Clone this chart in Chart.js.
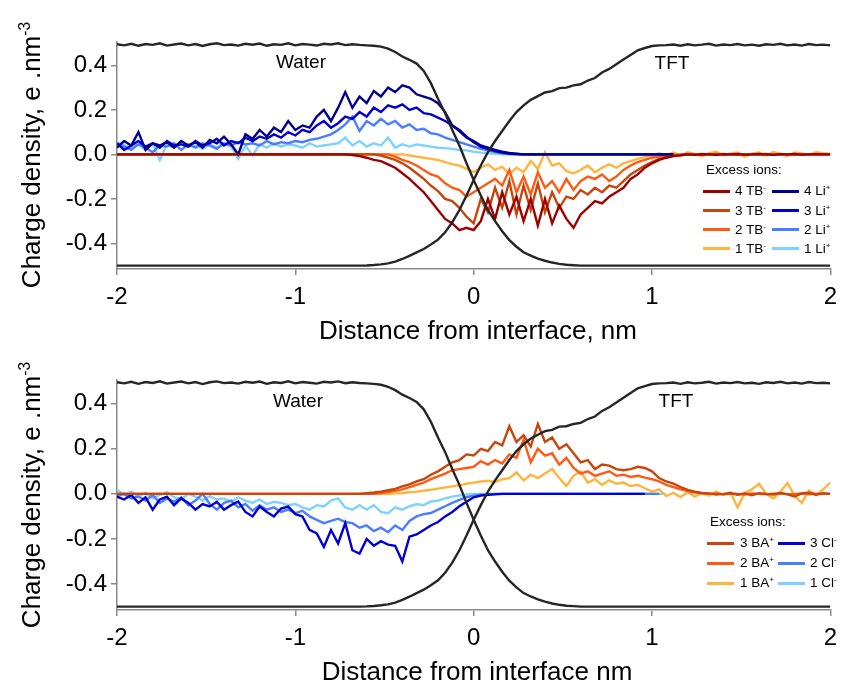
<!DOCTYPE html>
<html>
<head>
<meta charset="utf-8">
<title>Charge density profiles</title>
<script src="https://cdn.jsdelivr.net/npm/chart.js@4.4.1/dist/chart.umd.min.js"></script>
<style>
    body { margin: 0; background: #fff; font-family: 'Liberation Sans', Arial, sans-serif; color: #000; }
    #wrap { position: relative; width: 845px; height: 683px; overflow: hidden; }
    .panel { position: absolute; left: 0; }
    .txt { position: absolute; transform: translate(-50%, -50%); white-space: nowrap; line-height: 1; }
    .ytitle { position: absolute; transform: translate(-50%, -50%) rotate(-90deg); white-space: nowrap; line-height: 1; font-size: 26px; }
    .ytitle sup, .leg sup { font-size: 0.6em; line-height: 0; vertical-align: super; }
    .xtitle { font-size: 26px; }
    .phase { font-size: 19px; }
    .leg { position: absolute; font-size: 13.5px; line-height: 1; }
    .leg .row { position: absolute; display: flex; align-items: center; height: 14px; white-space: nowrap; }
    .leg .sw { display: inline-block; width: 27px; height: 3px; }
    .leg .name { display: inline-block; }
</style>
</head>
<body>
<div id="wrap">
    <canvas id="topChart" class="panel" width="845" height="340" style="top:0"></canvas>
    <canvas id="botChart" class="panel" width="845" height="343" style="top:340px"></canvas>

    <div class="ytitle" style="left:31px; top:155px">Charge density, e .nm<sup>-3</sup></div>
    <div class="ytitle" style="left:31px; top:495px">Charge density, e .nm<sup>-3</sup></div>
    <div class="txt xtitle" style="left:478px; top:330px">Distance from interface, nm</div>
    <div class="txt xtitle" style="left:477px; top:671px">Distance from interface nm</div>
    <div class="txt phase" style="left:301px; top:61px">Water</div>
    <div class="txt phase" style="left:672px; top:62px">TFT</div>
    <div class="txt phase" style="left:298px; top:400px">Water</div>
    <div class="txt phase" style="left:676px; top:400px">TFT</div>
    <div id="topLegend" class="leg"></div>
    <div id="botLegend" class="leg"></div>
</div>

<script>
// distance from interface, nm (sampling grid of the profiles)
const dist = [
    -2, -1.96, -1.92, -1.88, -1.84, -1.8, -1.76, -1.72, -1.68, -1.64,
    -1.6, -1.56, -1.52, -1.48, -1.44, -1.4, -1.36, -1.32, -1.28, -1.24,
    -1.2, -1.16, -1.12, -1.08, -1.04, -1, -0.96, -0.92, -0.88, -0.84,
    -0.8, -0.76, -0.72, -0.68, -0.64, -0.6, -0.56, -0.52, -0.48, -0.44,
    -0.4, -0.36, -0.32, -0.28, -0.24, -0.2, -0.16, -0.12, -0.08, -0.04,
    0, 0.04, 0.08, 0.12, 0.16, 0.2, 0.24, 0.28, 0.32, 0.36,
    0.4, 0.44, 0.48, 0.52, 0.56, 0.6, 0.64, 0.68, 0.72, 0.76,
    0.8, 0.84, 0.88, 0.92, 0.96, 1, 1.04, 1.08, 1.12, 1.16,
    1.2, 1.24, 1.28, 1.32, 1.36, 1.4, 1.44, 1.48, 1.52, 1.56,
    1.6, 1.64, 1.68, 1.72, 1.76, 1.8, 1.84, 1.88, 1.92, 1.96,
    2
];

const xTicks = [-2, -1, 0, 1, 2];
const yTicks = [-0.4, -0.2, 0, 0.2, 0.4];

// scaled solvent density profiles (same in both panels)
const waterDensity = [
    0.495, 0.49, 0.497, 0.488, 0.496, 0.492, 0.499, 0.489, 0.494, 0.498,
    0.49, 0.496, 0.487, 0.495, 0.499, 0.491, 0.494, 0.489, 0.497, 0.493,
    0.498, 0.488, 0.495, 0.492, 0.499, 0.49, 0.496, 0.493, 0.489, 0.497,
    0.494, 0.499, 0.491, 0.495, 0.492, 0.49, 0.488, 0.484, 0.475, 0.46,
    0.44, 0.425, 0.408, 0.375, 0.32, 0.25, 0.185, 0.11, 0.04, -0.04,
    -0.115, -0.185, -0.25, -0.3, -0.345, -0.385, -0.415, -0.44, -0.455, -0.468,
    -0.478, -0.486, -0.492, -0.496, -0.498, -0.5, -0.5, -0.5, -0.5, -0.5,
    -0.5, -0.5, -0.5, -0.5, -0.5, -0.5, -0.5, -0.5, -0.5, -0.5,
    -0.5, -0.5, -0.5, -0.5, -0.5, -0.5, -0.5, -0.5, -0.5, -0.5,
    -0.5, -0.5, -0.5, -0.5, -0.5, -0.5, -0.5, -0.5, -0.5, -0.5,
    -0.5
];
const tftDensity = [
    -0.5, -0.5, -0.5, -0.5, -0.5, -0.5, -0.5, -0.5, -0.5, -0.5,
    -0.5, -0.5, -0.5, -0.5, -0.5, -0.5, -0.5, -0.5, -0.5, -0.5,
    -0.5, -0.5, -0.5, -0.5, -0.5, -0.5, -0.5, -0.5, -0.5, -0.5,
    -0.5, -0.5, -0.5, -0.5, -0.5, -0.499, -0.497, -0.494, -0.49, -0.482,
    -0.47, -0.456, -0.44, -0.425, -0.405, -0.383, -0.35, -0.305, -0.25, -0.185,
    -0.115, -0.05, 0.01, 0.06, 0.105, 0.15, 0.19, 0.22, 0.245, 0.262,
    0.278, 0.284, 0.298, 0.3, 0.31, 0.315, 0.332, 0.343, 0.368, 0.384,
    0.405, 0.426, 0.447, 0.468, 0.478, 0.487, 0.49, 0.491, 0.494, 0.488,
    0.495, 0.49, 0.493, 0.497, 0.489, 0.494, 0.491, 0.496, 0.49, 0.493,
    0.488, 0.495, 0.492, 0.497, 0.49, 0.494, 0.489, 0.496, 0.491, 0.493,
    0.49
];

// top panel: excess TB- anions
const tb4 = [
    0, 0, 0, 0, 0, 0, 0, 0, 0, 0,
    0, 0, 0, 0, 0, 0, 0, 0, 0, 0,
    0, 0, 0, 0, 0, 0, 0, 0, 0, 0,
    0, 0, 0, -0.003, -0.008, -0.015, -0.025, -0.03, -0.045, -0.06,
    -0.085, -0.11, -0.14, -0.17, -0.21, -0.25, -0.29, -0.31, -0.34, -0.33,
    -0.34, -0.3, -0.2, -0.29, -0.17, -0.27, -0.19, -0.3, -0.2, -0.32,
    -0.2, -0.31, -0.23, -0.29, -0.33, -0.27, -0.24, -0.21, -0.22, -0.19,
    -0.17, -0.15, -0.11, -0.09, -0.06, -0.04, -0.025, -0.015, -0.008, -0.004,
    0, -0.002, 0.002, 0, -0.002, 0.001, 0, 0.002, -0.001, 0,
    0.002, 0, -0.002, 0.001, 0, 0.002, -0.001, 0, 0.001, 0,
    0
];
const tb3 = [
    0, 0, 0, 0, 0, 0, 0, 0, 0, 0,
    0, 0, 0, 0, 0, 0, 0, 0, 0, 0,
    0, 0, 0, 0, 0, 0, 0, 0, 0, 0,
    0, 0, 0, 0, 0, 0, 0, -0.005, -0.015, -0.025,
    -0.04, -0.06, -0.085, -0.11, -0.14, -0.165, -0.2, -0.21, -0.24, -0.28,
    -0.31, -0.2, -0.26, -0.15, -0.24, -0.12, -0.27, -0.14, -0.25, -0.13,
    -0.26, -0.17, -0.24, -0.19, -0.2, -0.16, -0.18, -0.15, -0.17, -0.14,
    -0.15, -0.12, -0.09, -0.07, -0.05, -0.035, -0.02, -0.012, -0.006, -0.003,
    0.001, 0, -0.002, 0, 0.002, -0.001, 0, 0.001, -0.002, 0,
    0, 0.002, -0.001, 0, 0.001, 0, -0.002, 0.001, 0, 0.001,
    0
];
const tb2 = [
    0, 0, 0, 0, 0, 0, 0, 0, 0, 0,
    0, 0, 0, 0, 0, 0, 0, 0, 0, 0,
    0, 0, 0, 0, 0, 0, 0, 0, 0, 0,
    0, 0, 0, 0, 0, 0, 0, 0, 0, -0.01,
    -0.025, -0.035, -0.05, -0.07, -0.09, -0.1, -0.13, -0.15, -0.16, -0.19,
    -0.17, -0.15, -0.13, -0.11, -0.14, -0.07, -0.17, -0.1, -0.18, -0.08,
    -0.15, -0.12, -0.17, -0.11, -0.16, -0.12, -0.1, -0.11, -0.09, -0.12,
    -0.1, -0.07, -0.05, -0.035, -0.025, -0.015, -0.01, -0.005, -0.002, 0,
    0.002, 0, -0.001, 0.001, 0, 0.002, 0, -0.002, 0.001, 0,
    0.001, -0.001, 0, 0.002, 0, -0.001, 0.001, 0, 0.002, 0,
    0
];
const tb1 = [
    0, 0, 0, 0, 0, 0, 0, 0, 0, 0,
    0, 0, 0, 0, 0, 0, 0, 0, 0, 0,
    0, 0, 0, 0, 0, 0, 0, 0, 0, 0,
    0, 0, 0, 0, 0, 0, 0, 0, 0, 0,
    0, -0.005, -0.01, -0.015, -0.02, -0.025, -0.035, -0.045, -0.05, -0.065,
    -0.08, -0.06, -0.045, -0.07, -0.055, -0.09, -0.06, -0.08, -0.03, -0.065,
    0.01, -0.05, -0.04, -0.075, -0.085, -0.07, -0.05, -0.08, -0.06, -0.045,
    -0.06, -0.04, -0.03, -0.02, -0.012, -0.006, 0.005, -0.004, 0.008, -0.006,
    0.01, 0.002, -0.008, 0.006, 0.012, -0.005, 0.004, 0.009, -0.01, 0.003,
    0.008, -0.006, 0.011, 0.002, -0.007, 0.009, 0.004, -0.003, 0.01, 0.005,
    0.002
];

// top panel: excess Li+ cations (profiles stop at 1.12 nm)
const li4 = [
    0.03, 0.06, 0.04, 0.1, 0.02, 0.05, 0.04, 0.055, 0.03, 0.06,
    0.04, 0.055, 0.03, 0.065, 0.05, 0.08, 0.045, 0, 0.09, 0.07,
    0.11, 0.08, 0.12, 0.1, 0.15, 0.11, 0.13, 0.12, 0.17, 0.2,
    0.15, 0.21, 0.28, 0.21, 0.26, 0.23, 0.285, 0.26, 0.3, 0.28,
    0.31, 0.3, 0.27, 0.26, 0.25, 0.23, 0.19, 0.13, 0.11, 0.08,
    0.055, 0.035, 0.025, 0.015, 0.008, 0.004, 0.002, 0, 0, 0,
    0, 0, 0, 0, 0, 0, 0, 0, 0, 0,
    0, 0, 0, 0, 0, 0, 0, 0, 0
];
const li3 = [
    0.05, 0.02, 0.04, 0.06, 0.035, 0.05, 0.03, 0.06, 0.04, 0.045,
    0.035, 0.06, 0.04, 0.05, 0.07, 0.04, 0.06, 0.05, 0.075, 0.06,
    0.08, 0.07, 0.09, 0.075, 0.1, 0.085, 0.11, 0.1, 0.13, 0.15,
    0.12, 0.14, 0.17, 0.16, 0.19, 0.17, 0.21, 0.19, 0.22, 0.21,
    0.225, 0.2, 0.21, 0.185, 0.18, 0.165, 0.15, 0.13, 0.105, 0.075,
    0.06, 0.04, 0.03, 0.02, 0.012, 0.006, 0.003, 0, 0, 0,
    0, 0, 0, 0, 0, 0, 0, 0, 0, 0,
    0, 0, 0, 0, 0, 0, 0, 0, 0
];
const li2 = [
    0.05, 0.035, 0.02, 0.045, 0.03, 0.01, 0.04, 0.035, 0.05, 0.02,
    0.045, 0.03, 0.05, 0.04, 0.025, 0.05, 0.04, 0.055, 0.045, 0.05,
    0.04, 0.06, 0.045, 0.055, 0.05, 0.06, 0.055, 0.065, 0.07, 0.08,
    0.09, 0.11, 0.135, 0.17, 0.105, 0.15, 0.13, 0.16, 0.135, 0.15,
    0.12, 0.135, 0.11, 0.115, 0.095, 0.09, 0.075, 0.065, 0.055, 0.045,
    0.035, 0.025, 0.018, 0.01, 0.005, 0.002, 0, 0, 0, 0,
    0, 0, 0, 0, 0, 0, 0, 0, 0, 0,
    0, 0, 0, 0, 0, 0, 0, 0, 0
];
const li1 = [
    0.055, 0.04, 0.03, 0.045, 0.02, 0.05, -0.025, 0.045, 0.03, 0.05,
    0.035, 0.04, 0.025, 0.045, 0.03, 0.05, 0.035, -0.02, 0.04, -0.005,
    0.045, 0.03, 0.05, 0.035, 0.045, 0.04, 0.03, 0.05, 0.035, 0.04,
    0.045, 0.05, 0.075, 0.04, 0.06, 0.035, 0.05, 0.04, 0.075, 0.03,
    0.045, 0.035, 0.045, 0.04, 0.035, 0.03, 0.028, 0.025, 0.02, 0.018,
    0.012, 0.008, 0.005, 0.003, 0, 0, 0, 0, 0, 0,
    0, 0, 0, 0, 0, 0, 0, 0, 0, 0,
    0, 0, 0, 0, 0, 0, 0, 0, 0
];

// bottom panel: excess BA+ cations
const ba3 = [
    0, 0, 0, 0, 0, 0, 0, 0, 0, 0,
    0, 0, 0, 0, 0, 0, 0, 0, 0, 0,
    0, 0, 0, 0, 0, 0, 0, 0, 0, 0,
    0, 0, 0, 0, 0, 0.003, 0.006, 0.01, 0.016, 0.022,
    0.033, 0.042, 0.055, 0.065, 0.085, 0.1, 0.12, 0.14, 0.15, 0.175,
    0.17, 0.2, 0.19, 0.23, 0.215, 0.3, 0.23, 0.26, 0.21, 0.31,
    0.23, 0.25, 0.2, 0.22, 0.18, 0.14, 0.15, 0.11, 0.13, 0.125,
    0.11, 0.105, 0.11, 0.12, 0.115, 0.1, 0.07, 0.055, 0.045, 0.03,
    0.018, 0.01, 0.004, 0.002, -0.003, 0, 0.004, -0.004, 0.002, -0.006,
    0.003, 0, -0.003, 0.004, -0.002, -0.012, 0.002, 0.005, -0.004, 0.003,
    0
];
const ba2 = [
    0, 0, 0, 0, 0, 0, 0, 0, 0, 0,
    0, 0, 0, 0, 0, 0, 0, 0, 0, 0,
    0, 0, 0, 0, 0, 0, 0, 0, 0, 0,
    0, 0, 0, 0, 0, 0, 0, 0.004, 0.008, 0.013,
    0.02, 0.03, 0.04, 0.05, 0.065, 0.078, 0.09, 0.105, 0.11, 0.115,
    0.12, 0.145, 0.13, 0.15, 0.135, 0.175, 0.16, 0.24, 0.14, 0.2,
    0.17, 0.18, 0.13, 0.16, 0.115, 0.09, 0.1, 0.08, 0.09, 0.1,
    0.08, 0.085, 0.075, 0.08, 0.072, 0.065, 0.055, 0.04, 0.03, 0.02,
    0.012, 0.006, 0.003, 0, 0.002, -0.002, 0.001, 0, -0.003, 0.002,
    0, -0.002, 0.001, 0.003, -0.001, 0, 0.002, -0.002, 0.001, 0,
    0
];
const ba1 = [
    0, 0, 0, 0, 0, 0, 0, 0, 0, 0,
    0, 0, 0, 0, 0, 0, 0, 0, 0, 0,
    0, 0, 0, 0, 0, 0, 0, 0, 0, 0,
    0, 0, 0, 0, 0, 0, 0, 0, 0, 0.002,
    0.004, 0.007, 0.01, 0.014, 0.018, 0.023, 0.028, 0.033, 0.038, 0.045,
    0.05, 0.055, 0.058, 0.052, 0.065, 0.07, 0.095, 0.06, 0.085, 0.07,
    0.09, 0.11, 0.07, 0.035, 0.08, 0.1, 0.05, 0.065, 0.04, 0.06,
    0.045, 0.05, 0.035, 0.04, 0.025, 0.01, 0.02, -0.01, 0.005, -0.015,
    0.008, -0.012, 0.004, -0.008, 0.01, -0.005, 0.006, -0.06, 0.004, 0.02,
    0.045, 0, -0.02, 0.01, 0.048, -0.01, -0.04, 0.015, -0.005, 0.02,
    0.05
];

// bottom panel: excess Cl- anions (profiles stop near 1 nm)
const cl3 = [
    -0.012, -0.025, -0.005, -0.04, -0.015, -0.07, -0.025, -0.012, -0.05, -0.02,
    -0.04, -0.07, -0.045, -0.056, -0.035, -0.07, -0.05, -0.034, -0.08, -0.1,
    -0.056, -0.08, -0.1, -0.065, -0.056, -0.09, -0.1, -0.16, -0.175, -0.235,
    -0.16, -0.22, -0.13, -0.25, -0.265, -0.2, -0.23, -0.21, -0.225, -0.23,
    -0.3, -0.19, -0.18, -0.16, -0.14, -0.125, -0.1, -0.08, -0.055, -0.035,
    -0.015, -0.008, -0.004, -0.002, 0, 0, 0, 0, 0, 0,
    0, 0, 0, 0, 0, 0, 0, 0, 0, 0,
    0, 0, 0, 0, 0
];
const cl2 = [
    -0.01, 0, -0.02, -0.012, -0.03, -0.005, -0.04, -0.02, -0.035, -0.015,
    -0.05, -0.03, 0, -0.045, -0.07, -0.04, -0.03, -0.06, -0.045, -0.075,
    -0.05, -0.07, -0.06, -0.08, -0.07, -0.085, -0.075, -0.1, -0.115, -0.13,
    -0.12, -0.11, -0.125, -0.13, -0.15, -0.14, -0.165, -0.15, -0.17, -0.14,
    -0.16, -0.12, -0.1, -0.09, -0.085, -0.07, -0.055, -0.04, -0.027, -0.015,
    -0.008, -0.004, -0.002, 0, 0, 0, 0, 0, 0, 0,
    0, 0, 0, 0, 0, 0, 0, 0, 0, 0,
    0, 0, 0, 0, 0, 0, 0
];
const cl1 = [
    0.018, -0.005, 0.01, -0.012, 0.005, -0.02, -0.005, 0.008, -0.015, -0.025,
    0, -0.012, -0.03, -0.01, -0.025, -0.02, -0.035, -0.015, -0.03, -0.04,
    -0.025, -0.045, -0.035, -0.04, -0.05, -0.045, -0.06, -0.07, -0.05, -0.056,
    -0.03, -0.02, -0.06, -0.07, -0.05, -0.07, -0.05, -0.08, -0.086, -0.06,
    -0.07, -0.055, -0.045, -0.05, -0.034, -0.03, -0.02, -0.012, -0.007, -0.003,
    0, 0, 0, 0, 0, 0, 0, 0, 0, 0,
    0, 0, 0, 0, 0, 0, 0, 0, 0, 0,
    0, 0, 0, 0, 0, 0, 0, 0
];

const FONT = "'Liberation Sans', Arial, sans-serif";
const AXIS_GREY = '#8a8a8a';
const SOLVENT = '#262626';
const REDS = ['#9e0000', '#c8460c', '#ff5a14', '#ffb43c'];   // 4, 3, 2, 1 anions/cations (warm)
const BLUES = ['#00008c', '#0000d2', '#4a7dff', '#7dd2ff'];  // 4, 3, 2, 1 (cold)

function series(ys, color) {
    return {
        data: ys.map((y, i) => ({ x: dist[i], y: y })),
        borderColor: color,
        borderWidth: 2.4,
        pointRadius: 0,
        tension: 0,
        fill: false
    };
}

function makeChart(id, datasets, padTop, xHeight) {
    return new Chart(document.getElementById(id), {
        type: 'line',
        data: { datasets: datasets },
        options: {
            responsive: false,
            animation: false,
            events: [],
            layout: { padding: { top: padTop, right: 8, left: 0, bottom: 0 } },
            plugins: { legend: { display: false }, tooltip: { enabled: false } },
            scales: {
                x: {
                    type: 'linear', min: -2, max: 2,
                    afterFit: (s) => { s.height = xHeight; },
                    afterBuildTicks: (ax) => { ax.ticks = xTicks.map(v => ({ value: v })); },
                    ticks: { font: { family: FONT, size: 24 }, color: '#000', padding: 8, autoSkip: false, maxRotation: 0,
                             callback: (v) => String(v) },
                    grid: { drawOnChartArea: false, drawTicks: true, tickLength: 6, color: AXIS_GREY, lineWidth: 1.5 },
                    border: { color: AXIS_GREY, width: 1.5 }
                },
                y: {
                    min: -0.515, max: 0.505,
                    afterFit: (s) => { s.width = 117; },
                    afterBuildTicks: (ax) => { ax.ticks = yTicks.map(v => ({ value: v })); },
                    ticks: { font: { family: FONT, size: 24 }, color: '#000', padding: 4, autoSkip: false,
                             callback: (v) => v.toFixed(1) },
                    grid: { drawOnChartArea: false, drawTicks: true, tickLength: 6, color: AXIS_GREY, lineWidth: 1.5 },
                    border: { color: AXIS_GREY, width: 1.5 }
                }
            }
        }
    });
}

// first dataset is drawn on top, so the solvent curves go first
makeChart('topChart', [
    series(waterDensity, SOLVENT), series(tftDensity, SOLVENT),
    series(tb4, REDS[0]), series(li4, BLUES[0]),
    series(tb3, REDS[1]), series(li3, BLUES[1]),
    series(tb2, REDS[2]), series(li2, BLUES[2]),
    series(tb1, REDS[3]), series(li1, BLUES[3])
], 42, 71);

makeChart('botChart', [
    series(waterDensity, SOLVENT), series(tftDensity, SOLVENT),
    series(ba3, REDS[1]), series(cl3, BLUES[1]),
    series(ba2, REDS[2]), series(cl2, BLUES[2]),
    series(ba1, REDS[3]), series(cl1, BLUES[3])
], 40, 73);

// legends: [left label, sup, colour, right label, sup, colour]
const topLegendRows = [
    ['4 TB', '-', REDS[0], '4 Li', '+', BLUES[0]],
    ['3 TB', '-', REDS[1], '3 Li', '+', BLUES[1]],
    ['2 TB', '-', REDS[2], '2 Li', '+', BLUES[2]],
    ['1 TB', '-', REDS[3], '1 Li', '+', BLUES[3]]
];
const botLegendRows = [
    ['3 BA', '+', REDS[1], '3 Cl', '-', BLUES[1]],
    ['2 BA', '+', REDS[2], '2 Cl', '-', BLUES[2]],
    ['1 BA', '+', REDS[3], '1 Cl', '-', BLUES[3]]
];

function buildLegend(id, rows, left, headY, firstRowY, rowGap, cols) {
    const box = document.getElementById(id);
    box.style.left = left + 'px';
    box.style.top = '0px';
    let html = `<div class="row" style="left:${cols[0] - left + 3}px; top:${headY - 7}px">Excess ions:</div>`;
    rows.forEach((r, i) => {
        const y = firstRowY + i * rowGap - 7;
        html += `<div class="row" style="left:${cols[0] - left}px; top:${y}px">
                    <span class="sw" style="background:${r[2]}"></span>
                    <span class="name" style="margin-left:${cols[1] - cols[0] - 27}px">${r[0]}<sup>${r[1]}</sup></span></div>`;
        html += `<div class="row" style="left:${cols[2] - left}px; top:${y}px">
                    <span class="sw" style="background:${r[5]}"></span>
                    <span class="name" style="margin-left:${cols[3] - cols[2] - 27}px">${r[3]}<sup>${r[4]}</sup></span></div>`;
    });
    box.innerHTML = html;
}

buildLegend('topLegend', topLegendRows, 0, 170, 191, 19.3, [703, 735, 772, 804]);
buildLegend('botLegend', botLegendRows, 0, 522, 543, 20, [707, 740, 778, 810]);
</script>
</body>
</html>
